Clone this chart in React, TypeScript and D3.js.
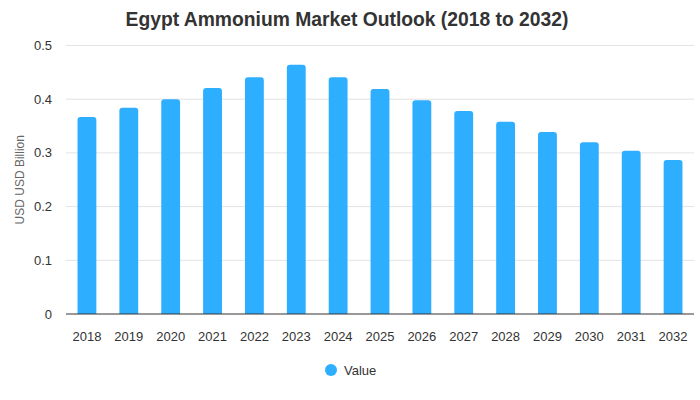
import React from "react";
import * as d3 from "d3";

const years = ["2018","2019","2020","2021","2022","2023","2024","2025","2026","2027","2028","2029","2030","2031","2032"];
const values = [0.367,0.384,0.400,0.421,0.441,0.464,0.441,0.419,0.398,0.378,0.358,0.339,0.320,0.304,0.287];
const yTicks = [0,0.1,0.2,0.3,0.4,0.5];

const W = 700, H = 400;
const M = { left: 66, right: 6, top: 45.5, bottom: 86 };
const FONT = "'Liberation Sans', Arial, sans-serif";
const BAR = "#2eaeff";

function topRounded(x: number, y: number, w: number, h: number, r: number) {
  r = Math.min(r, h, w / 2);
  return `M${x},${y + h}V${y + r}Q${x},${y} ${x + r},${y}H${x + w - r}Q${x + w},${y} ${x + w},${y + r}V${y + h}Z`;
}

export default function App() {
  const x = d3.scaleBand<string>().domain(years).range([M.left, W - M.right]).paddingInner(0.55).paddingOuter(0.275);
  const y = d3.scaleLinear().domain([0, 0.5]).range([H - M.bottom, M.top]);
  const y0 = y(0);
  return (
    <svg width={W} height={H} style={{ position: "absolute", left: 0, top: 0, background: "#fff" }} fontFamily={FONT}>
      <text x={347} y={26} textAnchor="middle" fontSize={19.3} fontWeight="bold" fill="#333">Egypt Ammonium Market Outlook (2018 to 2032)</text>
      {yTicks.map(t => (
        <g key={t}>
          {t > 0 && <line x1={M.left} x2={W - M.right} y1={y(t)} y2={y(t)} stroke="#e3e3e3" strokeWidth={1} />}
          <text x={52} y={y(t)} dy="0.35em" textAnchor="end" fontSize={13} fill="#333">{t === 0 ? "0" : t.toFixed(1)}</text>
        </g>
      ))}
      <text transform={`translate(24,${(y(0.5) + y0) / 2}) rotate(-90)`} textAnchor="middle" fontSize={12} fill="#666">USD USD Billion</text>
      {years.map((yr, i) => (
        <path key={yr} d={topRounded(x(yr)!, y(values[i]), x.bandwidth(), y0 - y(values[i]), 3)} fill={BAR} />
      ))}
      <line x1={M.left} x2={W - M.right} y1={y0} y2={y0} stroke="#333" strokeWidth={1} />
      {years.map(yr => (
        <text key={yr} x={x(yr)! + x.bandwidth() / 2} y={341} textAnchor="middle" fontSize={13} fill="#333">{yr}</text>
      ))}
      <circle cx={331} cy={370} r={6} fill={BAR} />
      <text x={344} y={370} dy="0.35em" fontSize={13} fill="#333">Value</text>
    </svg>
  );
}
